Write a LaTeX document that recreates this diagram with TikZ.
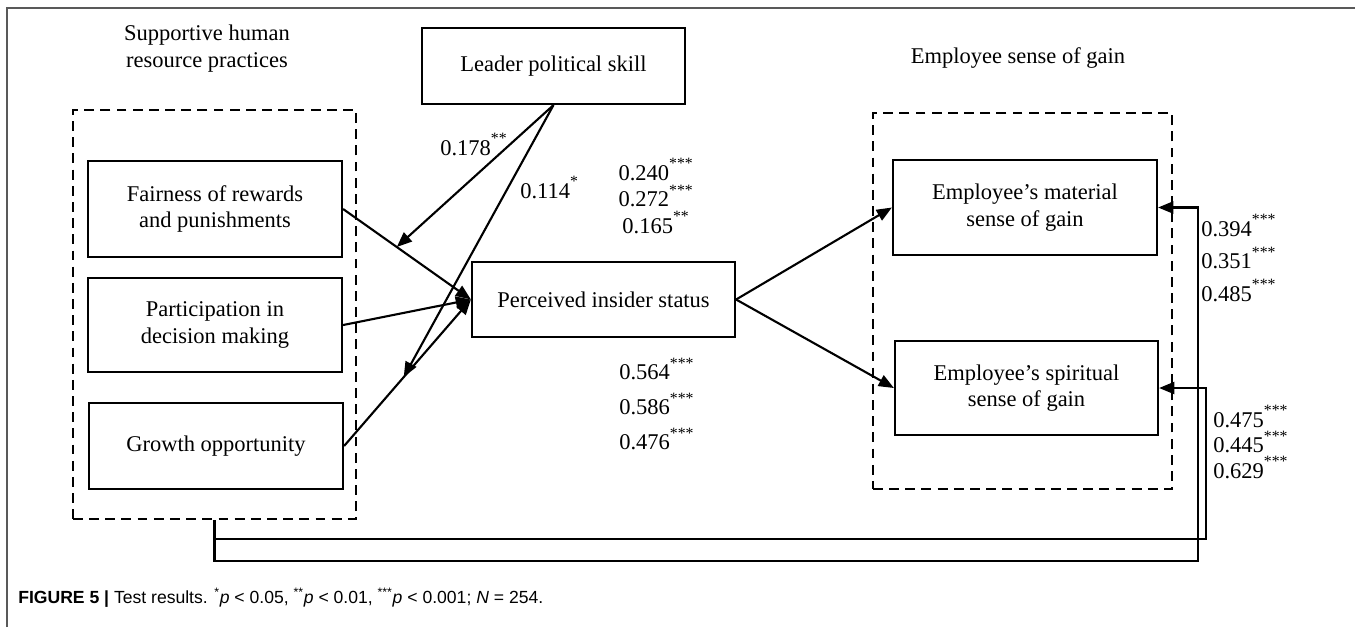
\documentclass[tikz,border=0pt]{standalone}
\usepackage{fontspec}
\setmainfont{Liberation Serif}
\newfontfamily\capfont{Liberation Sans}
\usetikzlibrary{arrows.meta,calc}

\tikzset{
  box/.style={draw, line width=1.5pt, align=center, inner sep=0pt},
  group/.style={draw, line width=1.4pt, dash pattern=on 7pt off 4.5pt, inner sep=0pt},
  arr/.style={-{Triangle[length=3.8mm,width=3mm]}, line width=1.5pt},
  coef/.style={inner sep=0pt, align=left},
}
\newcommand{\sg}[1]{\raisebox{2pt}{\textsuperscript{#1}}}

\begin{document}
\begin{tikzpicture}[x=0.025cm, y=-0.025cm]
  \useasboundingbox (0,0) rectangle (1355,627);
  \draw[black!65, line width=1.4pt] (7,627) -- (7,8) -- (1355,8);

  \begin{scope}[every node/.style={font=\fontsize{16}{18.8}\selectfont}]

    \begin{scope}[every node/.append style={box}]
      \node (1) at (553.5,66)  [minimum width=6.575cm, minimum height=1.9cm]  {Leader political skill};
      \node (2) at (215,209)   [minimum width=6.35cm, minimum height=2.4cm]   {Fairness of rewards\\and punishments};
      \node (3) at (215,325)   [minimum width=6.35cm, minimum height=2.35cm]  {Participation in\\decision making};
      \node (4) at (216,446)   [minimum width=6.35cm, minimum height=2.15cm]  {Growth opportunity};
      \node (5) at (603.5,299.5) [minimum width=6.575cm, minimum height=1.875cm] {Perceived insider status};
      \node (6) at (1025,207.5) [minimum width=6.6cm, minimum height=2.375cm] {Employee’s material\\sense of gain};
      \node (7) at (1026.5,388) [minimum width=6.575cm, minimum height=2.35cm] {Employee’s spiritual\\sense of gain};
    \end{scope}

    % dashed groups
    \node[group, minimum width=7.075cm, minimum height=10.225cm] (8) at (214.5,314.5) {};
    \node[group, minimum width=7.475cm, minimum height=9.4cm] (9) at (1022.5,301) {};

    \node[align=center, inner sep=0pt, font=\fontsize{16}{19}\selectfont] (10) at (207,48.5) {Supportive human\\resource practices};
    \node[inner sep=0pt] (11) at (1018,58) {Employee sense of gain};

    % coefficients
    \node[coef, anchor=base west] (12) at (440,155) {0.178\sg{**}};
    \node[coef, anchor=base west] (13) at (520,198) {0.114\sg{*}};
    \node[coef, align=center] (14) at (656,196) {0.240\sg{***}\\0.272\sg{***}\\0.165\sg{**}};
    \node[coef, anchor=west, font=\fontsize{16}{25}\selectfont] (15) at (619,404) {0.564\sg{***}\\0.586\sg{***}\\0.476\sg{***}};
    \node[coef, anchor=west, font=\fontsize{16}{23}\selectfont] (16) at (1201,258) {0.394\sg{***}\\0.351\sg{***}\\0.485\sg{***}};
    \node[coef, anchor=west, font=\fontsize{16}{18}\selectfont] (17) at (1213,442) {0.475\sg{***}\\0.445\sg{***}\\0.629\sg{***}};
  \end{scope}

  \coordinate (a1) at ($(2.east)!0.42!(5.west)$);
  \coordinate (a2) at ($(4.east)!0.47!(5.west)$);
  \coordinate (c1) at (1198,561);
  \coordinate (c2) at (1206,539);

  \begin{scope}[every edge/.style={draw, arr}]
    \path (2.east) edge (5.west);
    \path (3.east) edge (5.west);
    \path (4.east) edge (5.west);
    \path (1.south) edge (a1);
    \path (1.south) edge (a2);
    \path (5.east) edge (6.west);
    \path (5.east) edge (7.west);
  \end{scope}

  \draw[arr] (8.south) |- (c1) |- (6.east);
  \draw[arr] (8.south) |- (c2) |- (7.east);

  \node[anchor=base west, inner sep=0pt, font=\capfont\fontsize{12.5}{15}\selectfont] (18) at (18,603)
    {\textbf{FIGURE 5 |} Test results. \textsuperscript{*}\textit{p} < 0.05, \textsuperscript{**}\textit{p} < 0.01, \textsuperscript{***}\textit{p} < 0.001; \textit{N} = 254.};
\end{tikzpicture}
\end{document}
